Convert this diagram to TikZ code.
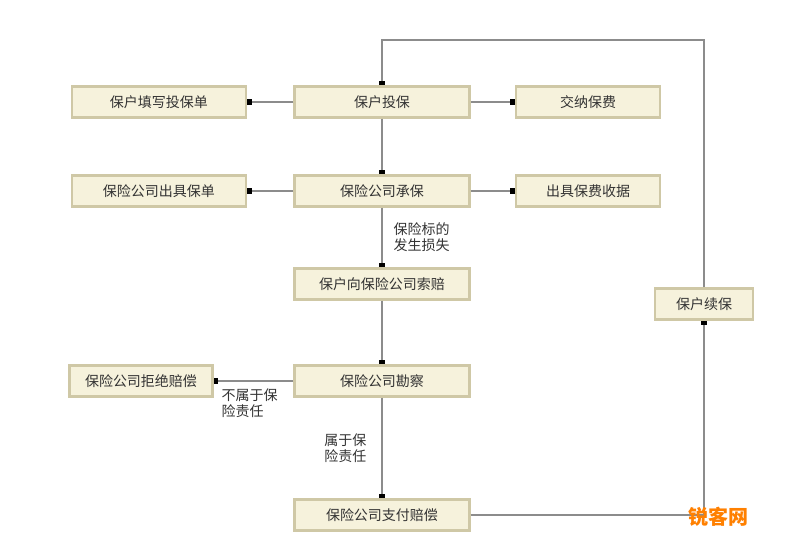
\documentclass[tikz,border=0pt]{standalone}
\usepackage{fontspec}
\setmainfont{Noto Sans CJK SC}
\usetikzlibrary{arrows.meta}
\definecolor{boxfill}{HTML}{F6F2DC}
\definecolor{boxline}{HTML}{CFC8A6}
\definecolor{lineg}{HTML}{8C8C8C}
\tikzset{every node/.style={font=\fontsize{7}{8}\selectfont,text=black!80}}
\tikzset{box/.style={draw=boxline,fill=boxfill,line width=1.2pt,minimum height=15.5pt,inner sep=0pt}}
\tikzset{link/.style={draw=lineg,line width=1pt,-{Square[length=2.2pt,width=2.8pt,black]}}}
\begin{document}
\begin{tikzpicture}[x=0.5pt,y=-0.5pt]
\useasboundingbox (0,0) rectangle (800,550);
\fill[white] (0,0) rectangle (800,550);
% main column
\node[box,minimum width=87.5pt] (tb) at (382,102) {保户投保};
\node[box,minimum width=87.5pt] (cb) at (382,191) {保险公司承保};
\node[box,minimum width=87.5pt] (sp) at (382,284) {保户向保险公司索赔};
\node[box,minimum width=87.5pt] (kc) at (382,381) {保险公司勘察};
\node[box,minimum width=87.5pt] (zf) at (382,515) {保险公司支付赔偿};
% sides
\node[box,minimum width=87pt] (tx) at (159,102) {保户填写投保单};
\node[box,minimum width=87pt] (cj) at (159,191) {保险公司出具保单};
\node[box,minimum width=72pt] (jn) at (588,102) {交纳保费};
\node[box,minimum width=72pt] (sj) at (588,191) {出具保费收据};
\node[box,minimum width=71.5pt] (jj) at (141,381) {保险公司拒绝赔偿};
\node[box,minimum width=49pt] (xb) at (704,304) {保户续保};
\coordinate (top) at (382,40);
% connectors
\draw[link] (tb) -- (tx);
\draw[link] (tb) -- (jn);
\draw[link] (tb) -- (cb);
\draw[link] (cb) -- (cj);
\draw[link] (cb) -- (sj);
\draw[link] (cb) -- node[right,align=left,xshift=2pt]{保险标的\\发生损失} (sp);
\draw[link] (sp) -- (kc);
\draw[link] (kc) -- node[below,align=left,pos=0.55]{不属于保\\险责任} (jj);
\draw[link] (kc) -- node[left,align=left,xshift=-4pt]{属于保\\险责任} (zf);
\draw[link] (zf) -| (xb);
\draw[link] (xb) |- (top) -- (tb);
\node[font=\fontsize{10}{12}\selectfont\bfseries,text=orange] (wm) at (718,517) {锐客网};
\end{tikzpicture}
\end{document}
